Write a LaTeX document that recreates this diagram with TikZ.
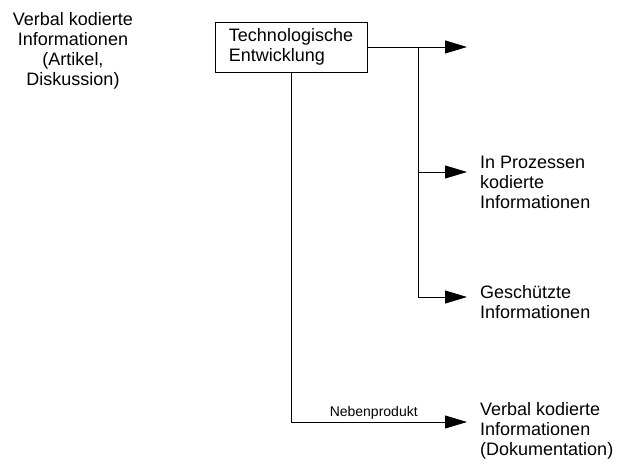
\documentclass[tikz,border=0pt]{standalone}
\usepackage{fontspec}
\setmainfont{Liberation Sans}
\usetikzlibrary{arrows.meta}
\begin{document}
\begin{tikzpicture}[x=1pt,y=-1pt,
  line/.style={line width=0.9pt,black},
  flow/.style={line, -{Triangle[length=22pt,width=13pt]}},
  maintext/.style={font=\fontsize{18}{20}\selectfont},
  target/.style={maintext, anchor=north west, align=left, inner xsep=13pt, inner ysep=0pt},
  techbox/.style={maintext, draw, line width=0.9pt, align=left, minimum width=152pt, minimum height=50pt, inner sep=0pt},
  smalllabel/.style={font=\fontsize{14}{16}\selectfont, inner sep=2pt}]
\useasboundingbox (0,0) rectangle (617,465);

% source text on the left
\node[maintext, align=center, anchor=north, inner sep=0pt] (verbal) at (73,12)
  {Verbal kodierte\\Informationen\\(Artikel,\\Diskussion)};

% central box
\node[techbox] (tech) at (291,47) {Technologische\\Entwicklung};

% targets
\node[target] (proc) at (467,156) {In Prozessen\\kodierte\\Informationen};
\node[target] (prot) at (467,285.5) {Geschützte\\Informationen};
\node[target] (doku) at (467,402.5) {Verbal kodierte\\Informationen\\(Dokumentation)};

% branch points
\coordinate (out) at (467,47);
\coordinate (split) at (418,47);
\coordinate (b1) at (418,172);
\coordinate (b2) at (418,297);
\coordinate (b3) at (291,422);

% connectors
\draw[flow] (tech.east) -- (out);
\draw[line] (split) -- (b2);
\draw[flow] (b1) -- (b1 -| proc.west);
\draw[flow] (b2) -- (b2 -| prot.west);
\draw[line] (tech.south) -- (b3);
\draw[flow] (b3) -- node[smalllabel, above, pos=0.47] {Nebenprodukt} (b3 -| doku.west);
\end{tikzpicture}
\end{document}
